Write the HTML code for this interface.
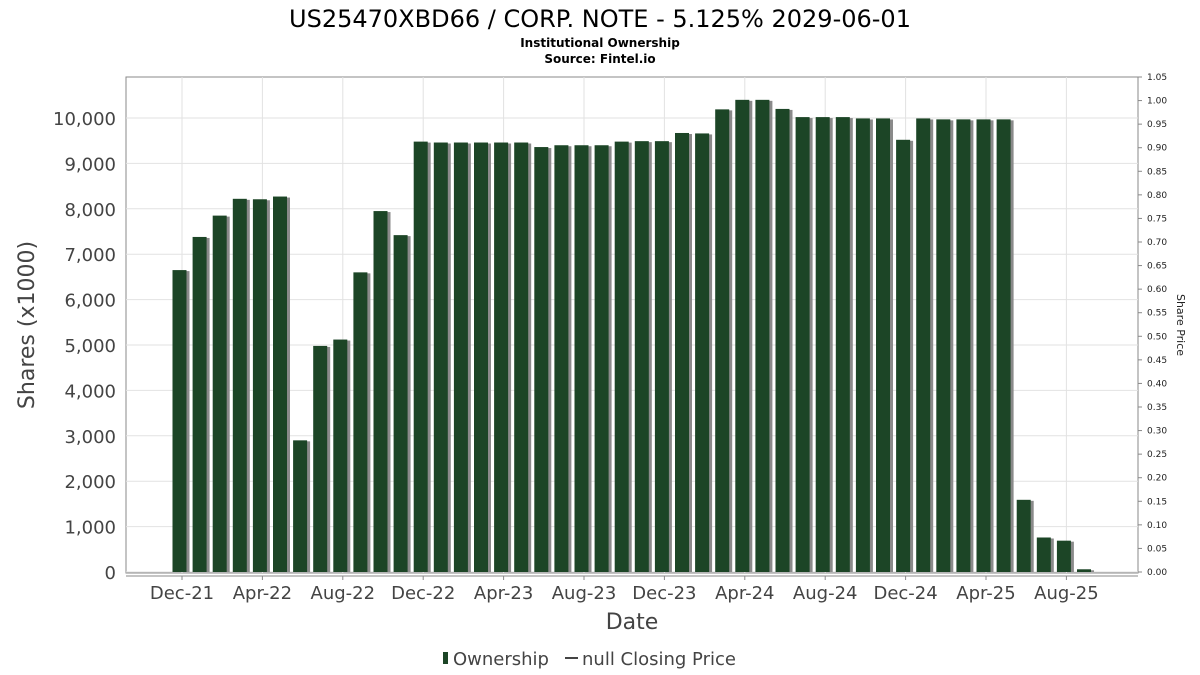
<!DOCTYPE html>
<html><head><meta charset="utf-8"><style>
body{margin:0;background:#fff;font-family:"DejaVu Sans","Liberation Sans",sans-serif;}
svg{display:block}
</style></head><body>
<svg width="1200" height="675" viewBox="0 0 1200 675">
<text x="600" y="27" text-anchor="middle" font-size="24" fill="#000">US25470XBD66 / CORP. NOTE - 5.125% 2029-06-01</text>
<text x="600" y="47" text-anchor="middle" font-size="12" font-weight="bold">Institutional Ownership</text>
<text x="600" y="63" text-anchor="middle" font-size="12" font-weight="bold">Source: Fintel.io</text>
<rect x="126" y="77" width="1012" height="496" fill="#fff" stroke="#888"/>
<g id="grid"></g><g id="bars"></g><g id="axes"></g>
<text transform="translate(34,325) rotate(-90)" text-anchor="middle" font-size="22" fill="#444">Shares (x1000)</text>
<text transform="translate(1177,325) rotate(90)" text-anchor="middle" font-size="11" fill="#222">Share Price</text>
<text x="632" y="629" text-anchor="middle" font-size="22" fill="#444">Date</text>
<g>
<rect x="443" y="652" width="5" height="12" fill="#1c4526"/>
<text x="453" y="665" font-size="18" fill="#444">Ownership</text>
<line x1="565" y1="658" x2="578" y2="658" stroke="#444" stroke-width="2"/>
<text x="582" y="665" font-size="18" fill="#444">null Closing Price</text>
</g>
</svg>
<script>
const values=[6650,7380,7850,8220,8210,8270,2900,4980,5120,6600,7950,7420,9480,9460,9460,9460,9460,9460,9360,9400,9400,9400,9480,9490,9490,9670,9660,10190,10400,10400,10200,10020,10020,10020,9990,9990,9520,9990,9970,9970,9970,9970,1590,760,690,60];
const dateLabels=["Dec-21","Apr-22","Aug-22","Dec-22","Apr-23","Aug-23","Dec-23","Apr-24","Aug-24","Dec-24","Apr-25","Aug-25"];
const leftTicks=[0,1000,2000,3000,4000,5000,6000,7000,8000,9000,10000];
const rightTicks=[0,0.05,0.1,0.15,0.2,0.25,0.3,0.35,0.4,0.45,0.5,0.55,0.6,0.65,0.7,0.75,0.8,0.85,0.9,0.95,1.0,1.05];
const NS="http://www.w3.org/2000/svg";
const yL=v=>572-v*0.04540;
const yR=v=>572-v*(495/1.05);
const xB=i=>179.5+i*20.1;
function mk(t,a,p){const e=document.createElementNS(NS,t);for(const k in a)e.setAttribute(k,a[k]);p.appendChild(e);return e;}
const grid=document.getElementById('grid'),bars=document.getElementById('bars'),axes=document.getElementById('axes');
leftTicks.forEach(v=>{
 const l=mk('line',{x1:126,x2:1138,y1:yL(v),y2:yL(v),stroke:'#e2e2e2'},grid);
 
 
 const t=mk('text',{x:116,y:yL(v)+7,'text-anchor':'end','font-size':18,fill:'#444'},axes);
 t.textContent=v.toLocaleString('en-US');
 
 
});
dateLabels.forEach((d,k)=>{
 const x=xB(k*4)+2.5;
 const l=mk('line',{x1:x,x2:x,y1:77,y2:573,stroke:'#e2e2e2'},grid);
 
 
 mk('line',{x1:x,x2:x,y1:576,y2:580,stroke:'#888'},axes);
 const t=mk('text',{x:x,y:599,'text-anchor':'middle','font-size':18,fill:'#444'},axes);
 t.textContent=d;
 
 
});
mk('line',{x1:126,x2:1138,y1:576,y2:576,stroke:'#888'},axes);
rightTicks.forEach(v=>{
 mk('line',{x1:1138,x2:1142,y1:yR(v),y2:yR(v),stroke:'#888'},axes);
 const t=mk('text',{x:1147,y:yR(v)+3,'font-size':9,fill:'#222'},axes);
 t.textContent=v.toFixed(2);
 
 
});
values.forEach((v,i)=>{
 const x=xB(i),y=yL(v);
 const s=mk('rect',{x:x-4,y:y+1,width:14,height:572-y-1,fill:'#8a8a8a'},bars);
 
 
 const b=mk('rect',{x:x-7,y:y,width:14,height:572-y,fill:'#1c4526'},bars);
 
 
});
</script>
</body></html>
